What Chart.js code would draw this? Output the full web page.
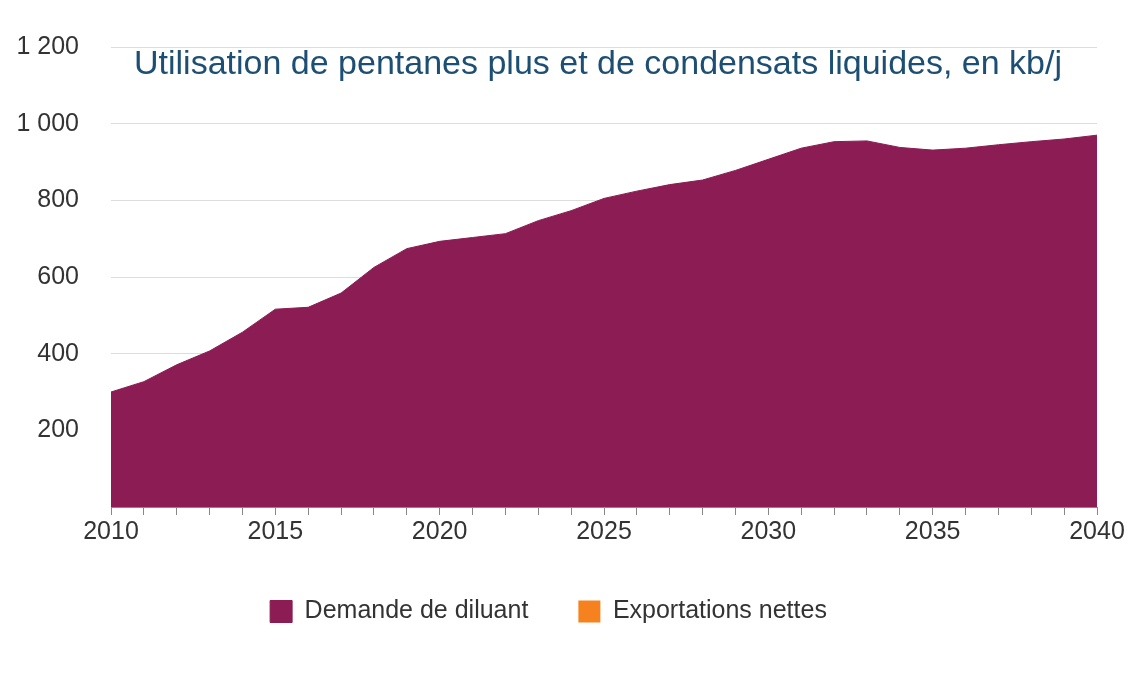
<!DOCTYPE html>
<html><head><meta charset="utf-8">
<script src="https://cdn.jsdelivr.net/npm/chart.js@4"></script>
<style>html,body{margin:0;padding:0;background:#fff}#w{width:1140px;height:684px}</style>
</head><body><div id="w"><canvas id="c"></canvas></div>
<script>
const years = [];
for (let y = 2010; y <= 2040; y++) years.push(String(y));
const diluantDemand = [300,327,371,407,456,516,521,558,625,674,693,703,713,747,773,805,824,841,853,878,907,936,953,955,938,931,936,945,953,960,970];
const netExports = [0,0,0,0,0,0,0,0,0,0,0,0,0,0,0,0,0,0,0,0,0,0,0,0,0,0,0,0,0,0,0];
const yTicks = [200,400,600,800,1000,1200];
const titleText = "Utilisation de pentanes plus et de condensats liquides, en kb/j";
const FONT = '"Liberation Sans", Arial, sans-serif';

const titlePlugin = {
  id: 'innerTitle',
  afterDraw(chart) {
    const ctx = chart.ctx, a = chart.chartArea;
    ctx.save();
    ctx.font = '34px ' + FONT;
    ctx.fillStyle = '#1d4f73';
    ctx.textAlign = 'center';
    ctx.textBaseline = 'middle';
    ctx.fillText(titleText, 598, 65);
    ctx.restore();
  }
};

new Chart(document.getElementById('c'), {
  type: 'line',
  data: {
    labels: years,
    datasets: [
      { label: 'Demande de diluant', data: diluantDemand, backgroundColor: '#8b1c54', borderColor: '#8b1c54', borderWidth: 1, fill: 'origin', pointRadius: 0, tension: 0 },
      { label: 'Exportations nettes', data: netExports, backgroundColor: '#f5821f', borderColor: 'rgba(0,0,0,0)', borderWidth: 0, fill: '-1', pointRadius: 0, tension: 0 }
    ]
  },
  options: {
    responsive: true, maintainAspectRatio: false, animation: false,
    layout: { padding: { top: -5, right: 43, bottom: 50, left: 0 } },
    plugins: {
      tooltip: { enabled: false },
      legend: {
        position: 'bottom',
        labels: { boxWidth: 22, boxHeight: 22, padding: 50, color: '#333', font: { size: 25, family: FONT } }
      }
    },
    scales: {
      x: {
        stacked: true,
        grid: { drawOnChartArea: false, drawTicks: true, tickLength: 8, color: '#888' },
        border: { display: true, color: '#888' },
        ticks: {
          autoSkip: false, maxRotation: 0, color: '#333', padding: 2,
          font: { size: 25, family: FONT },
          callback: function(v) { const l = this.getLabelForValue(v); return (+l) % 5 === 0 ? l : ''; }
        }
      },
      y: {
        stacked: true, min: 0, max: 1200,
        afterFit(s) { s.width = 111; },
        afterBuildTicks(s) { s.ticks = [0].concat(yTicks).map(v => ({ value: v })); },
        grid: { color: '#dddddd', drawTicks: false },
        border: { display: false },
        ticks: {
          color: '#333', padding: 32,
          font: { size: 25, family: FONT },
          callback: v => v === 0 ? '' : String(v).replace(/\B(?=(\d{3})+(?!\d))/g, ' ')
        }
      }
    }
  },
  plugins: [titlePlugin]
});
</script></body></html>
